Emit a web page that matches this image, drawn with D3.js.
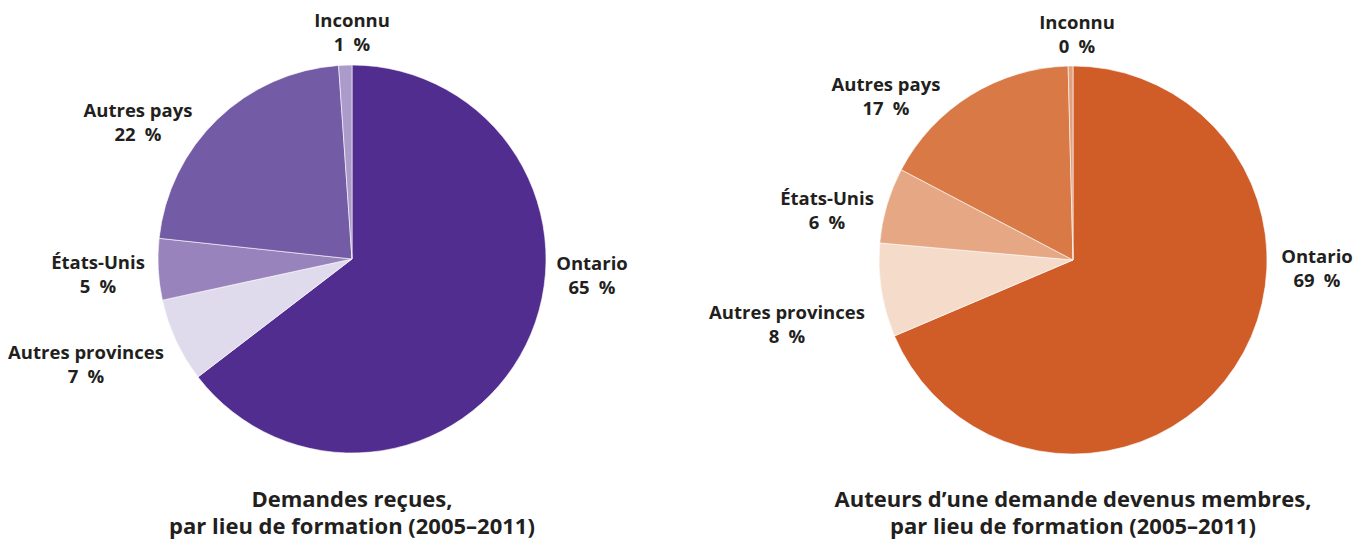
<!DOCTYPE html>
<html lang="fr">
<head>
  <meta charset="utf-8">
  <title>Lieu de formation</title>
  <script src="https://d3js.org/d3.v7.min.js"></script>
  <style>
    body { margin: 0; background: #fff; }
    text { font-family: "Open Sans", "Noto Sans", sans-serif; font-weight: bold; fill: #231f20; }
  </style>
</head>
<body>
<div class="chart"></div>

<script type="text/javascript">

// data
var categories = ["Ontario", "Autres provinces", "États-Unis", "Autres pays", "Inconnu"];
var demandes   = [64.6, 7.0, 5.1, 22.2, 1.1];
var membres    = [68.6, 7.8, 6.3, 16.9, 0.4];
var titles = [
  ["Demandes reçues,", "par lieu de formation (2005–2011)"],
  ["Auteurs d’une demande devenus membres,", "par lieu de formation (2005–2011)"]
];
var purples = ["#512d8f", "#dfdaec", "#9883bd", "#745ba5", "#ab9bcb"];
var oranges = ["#d05c28", "#f5dbc9", "#e6a884", "#d87946", "#e2a07c"];

// layout (label offsets from pie centre, first baseline)
var width = 1367, height = 542, radius = 194;
var charts = [
  { values: demandes, colors: purples, title: titles[0], cx: 352, cy: 259,
    labels: [[240, 11], [-266, 100], [-254, 10], [-214, -142], [0, -232]] },
  { values: membres, colors: oranges, title: titles[1], cx: 1073, cy: 260,
    labels: [[244, 3], [-286, 59], [-246, -55], [-187, -169], [4, -231]] }
];

var svg = d3.select(".chart").append("svg")
    .attr("width", width)
    .attr("height", height);

var pie = d3.pie().sort(null).value(function(d){ return d; });
var arc = d3.arc().innerRadius(0).outerRadius(radius);

charts.forEach(function(c){
  var g = svg.append("g")
      .attr("transform", "translate(" + c.cx + "," + c.cy + ")");

  g.selectAll("path")
    .data(pie(c.values))
    .enter()
    .append("path")
    .attr("d", arc)
    .style("fill", function(d, i){ return c.colors[i]; })
    .style("stroke", "#fff")
    .style("stroke-width", 0.6);

  var lab = g.selectAll("text.lab")
    .data(c.values)
    .enter()
    .append("text")
    .attr("class", "lab")
    .attr("text-anchor", "middle")
    .attr("font-size", 18.5)
    .attr("transform", function(d, i){ return "translate(" + c.labels[i][0] + "," + c.labels[i][1] + ")"; });

  lab.append("tspan").attr("x", 0).attr("y", 0)
    .text(function(d, i){ return categories[i]; });
  lab.append("tspan").attr("x", 0).attr("y", 24)
    .text(function(d){ return Math.round(d) + "\u2002%"; });

  svg.append("text")
    .attr("text-anchor", "middle")
    .attr("font-size", 22)
    .attr("x", c.cx)
    .selectAll("tspan")
    .data(c.title)
    .enter()
    .append("tspan")
    .attr("x", c.cx)
    .attr("y", function(d, i){ return 507 + i * 27; })
    .text(function(d){ return d; });
});

</script>
</body>
</html>
